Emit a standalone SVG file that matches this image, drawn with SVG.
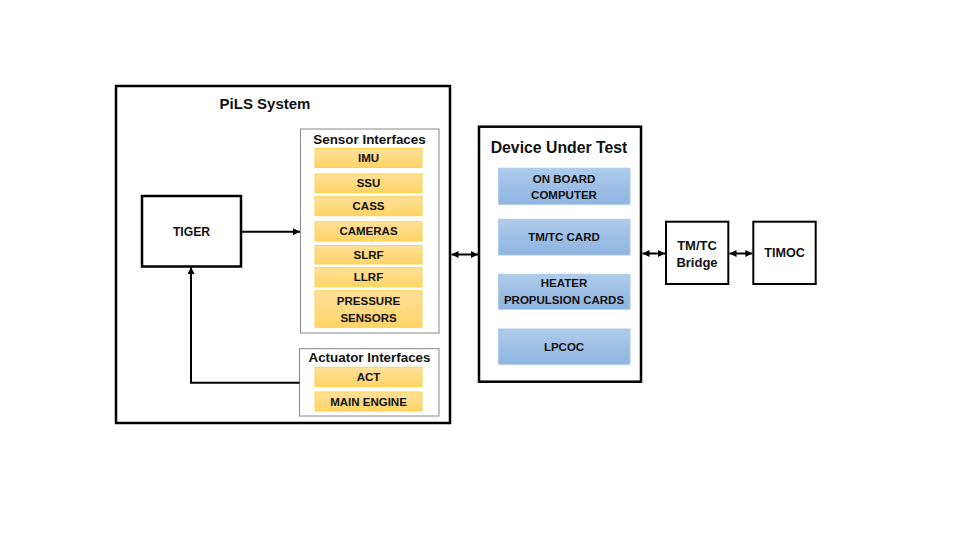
<svg xmlns="http://www.w3.org/2000/svg" width="957" height="540" viewBox="0 0 957 540">
<defs>
<linearGradient id="og" x1="0" y1="0" x2="0" y2="1"><stop offset="0" stop-color="#FFE09A"/><stop offset="1" stop-color="#FFD466"/></linearGradient>
<linearGradient id="bg" x1="0" y1="0" x2="0" y2="1"><stop offset="0" stop-color="#AECBEB"/><stop offset="1" stop-color="#8EB4E0"/></linearGradient>
<marker id="ah" viewBox="0 0 10 10" refX="10" refY="5" markerWidth="7" markerHeight="7" markerUnits="userSpaceOnUse" orient="auto-start-reverse"><path d="M0,0 L10,5 L0,10 z" fill="#000"/></marker>
<style>
text{font-family:"Liberation Sans",Arial,sans-serif;font-weight:bold;fill:#111;text-anchor:middle;dominant-baseline:central}
.big{stroke:#000;stroke-width:2.5;fill:#fff}
.grp{stroke:#888;stroke-width:1;fill:#fff}
.or{fill:url(#og);stroke:#FFD24D;stroke-width:1}
.bl{fill:url(#bg);stroke:#A9C8EA;stroke-width:1}
.lb{font-size:11.5px}
.ttl{font-size:13.4px}
.con{stroke:#000;stroke-width:2;fill:none}
</style>
</defs>
<rect width="957" height="540" fill="#fff"/>
<g id="pils">
<rect class="big" x="116" y="86" width="334" height="337"/>
<text x="265" y="103" style="font-size:15px">PiLS System</text>
</g>
<g id="tiger">
<rect class="big" x="142" y="196" width="99" height="70.5"/>
<text x="191.5" y="232" style="font-size:12.2px">TIGER</text>
</g>
<g id="sensor-interfaces">
<rect class="grp" x="300.5" y="129" width="138.5" height="204"/>
<text class="ttl" x="369.5" y="139">Sensor Interfaces</text>
</g>
<g id="imu"><rect class="or" x="315" y="148.5" width="107" height="19"/><text class="lb" x="368.5" y="158">IMU</text></g>
<g id="ssu"><rect class="or" x="315" y="174" width="107" height="18.5"/><text class="lb" x="368.5" y="183.3">SSU</text></g>
<g id="cass"><rect class="or" x="315" y="196.7" width="107" height="19"/><text class="lb" x="368.5" y="206.2">CASS</text></g>
<g id="cameras"><rect class="or" x="315" y="221.7" width="107" height="19.3"/><text class="lb" x="368.5" y="231.4">CAMERAS</text></g>
<g id="slrf"><rect class="or" x="315" y="245.5" width="107" height="18.5"/><text class="lb" x="368.5" y="254.8">SLRF</text></g>
<g id="llrf"><rect class="or" x="315" y="267.7" width="107" height="19"/><text class="lb" x="368.5" y="277.2">LLRF</text></g>
<g id="pressure-sensors"><rect class="or" x="315" y="290.7" width="107" height="36.6"/><text class="lb" x="368.5" y="300.7">PRESSURE</text><text class="lb" x="368.5" y="317.7">SENSORS</text></g>
<g id="actuator-interfaces">
<rect class="grp" x="299.5" y="348.7" width="139.5" height="67.3"/>
<text class="ttl" x="369.5" y="357">Actuator Interfaces</text>
</g>
<g id="act"><rect class="or" x="315" y="367.3" width="107" height="19.4"/><text class="lb" x="368.5" y="377">ACT</text></g>
<g id="main-engine"><rect class="or" x="315" y="392" width="107" height="19"/><text class="lb" x="368.5" y="401.5">MAIN ENGINE</text></g>
<g id="dut">
<rect class="big" x="479" y="126.7" width="162" height="255"/>
<text x="559" y="147.3" style="font-size:15.8px">Device Under Test</text>
</g>
<g id="obc"><rect class="bl" x="498.5" y="168.3" width="131.5" height="36"/><text class="lb" x="564" y="179">ON BOARD</text><text class="lb" x="564" y="195">COMPUTER</text></g>
<g id="tmtc-card"><rect class="bl" x="498.5" y="219.3" width="131.5" height="35.7"/><text class="lb" x="564" y="237.2">TM/TC CARD</text></g>
<g id="heater"><rect class="bl" x="498.5" y="274.3" width="131.5" height="35"/><text class="lb" x="564" y="283.3">HEATER</text><text class="lb" x="564" y="300">PROPULSION CARDS</text></g>
<g id="lpcoc"><rect class="bl" x="498.5" y="329" width="131.5" height="35.3"/><text class="lb" x="564" y="346.7">LPCOC</text></g>
<g id="tmtc-bridge">
<rect class="big" x="666" y="221.7" width="62.3" height="62.3" style="stroke-width:2"/>
<text x="697" y="245.7" style="font-size:13px">TM/TC</text>
<text x="697" y="262.7" style="font-size:13px">Bridge</text>
</g>
<g id="timoc">
<rect class="big" x="753.3" y="221.7" width="62.4" height="62.3" style="stroke-width:2"/>
<text x="784.5" y="253" style="font-size:12.6px">TIMOC</text>
</g>
<g id="connectors">
<line class="con" x1="241" y1="231.7" x2="300" y2="231.7" marker-end="url(#ah)"/>
<polyline class="con" points="299.5,382.7 191,382.7 191,267" marker-end="url(#ah)"/>
<line class="con" x1="451.5" y1="254.5" x2="478" y2="254.5" marker-start="url(#ah)" marker-end="url(#ah)"/>
<line class="con" x1="642.5" y1="253.5" x2="665" y2="253.5" marker-start="url(#ah)" marker-end="url(#ah)"/>
<line class="con" x1="729.5" y1="253.5" x2="752.3" y2="253.5" marker-start="url(#ah)" marker-end="url(#ah)"/>
</g>
</svg>
